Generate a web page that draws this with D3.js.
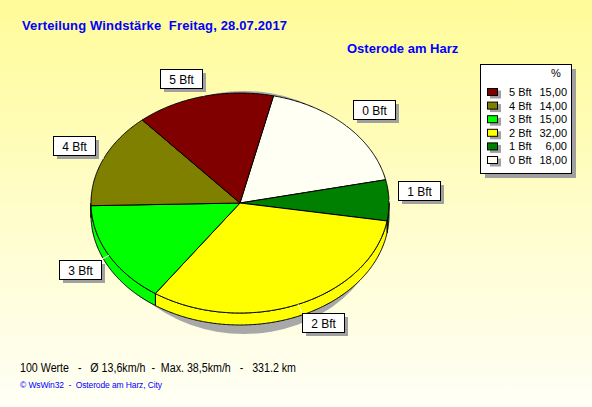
<!DOCTYPE html>
<html><head><meta charset="utf-8">
<script src="https://cdn.jsdelivr.net/npm/d3@7"></script>
<style>
html,body{margin:0;padding:0;overflow:hidden;background:#fff;}
svg{display:block;}
text{font-family:"Liberation Sans",Arial,sans-serif;}
</style>
</head><body>
<svg id="c" width="592" height="407"></svg>
<script>
// ---- data ----
const categories = ["0 Bft", "1 Bft", "2 Bft", "3 Bft", "4 Bft", "5 Bft"];
const percents   = [18, 6, 32, 15, 14, 15];
const colors     = ["#FFFFF4", "#008000", "#FFFF00", "#00FF00", "#808000", "#800000"];
const titleText  = "Verteilung Windstärke  Freitag, 28.07.2017";
const placeText  = "Osterode am Harz";
const legendHead = "%";
const footerText = "100 Werte   -   Ø 13,6km/h  -  Max. 38,5km/h   -   331.2 km";
const creditText = "© WsWin32  -  Osterode am Harz, City";

// ---- layout ----
const W = 592, H = 407;
const svg = d3.select("#c");
const defs = svg.append("defs");
const grad = defs.append("linearGradient").attr("id","bg").attr("x1",0).attr("y1",0).attr("x2",0).attr("y2",1);
grad.append("stop").attr("offset","0%").attr("stop-color","#FFFB99");
grad.append("stop").attr("offset","100%").attr("stop-color","#FFFFF6");
svg.append("rect").attr("width",W).attr("height",H).attr("fill","url(#bg)");

// titles
svg.append("text").attr("x",22).attr("y",30).attr("fill","#0000FF")
  .attr("font-size",13).attr("font-weight","bold").attr("textLength",265).attr("lengthAdjust","spacing")
  .style("white-space","pre").text(titleText);
svg.append("text").attr("x",347).attr("y",53).attr("fill","#0000FF")
  .attr("font-size",13).attr("font-weight","bold").text(placeText);

// pie geometry
const cx = 240, cy = 203, rx = 149, ry = 110, depth = 12;
const startDeg = 13;
const pie = d3.pie().sort(null).value(d => d)
  .startAngle(startDeg * Math.PI / 180)
  .endAngle((startDeg + 360) * Math.PI / 180);
const arcs = pie(percents);

function pt(a, dy = 0) { return [cx + rx * Math.sin(a), cy + dy - ry * Math.cos(a)]; }
function arcPts(a0, a1, dy = 0) {
  const n = Math.max(2, Math.ceil(Math.abs(a1 - a0) / (Math.PI / 360)));
  return d3.range(n + 1).map(i => pt(a0 + (a1 - a0) * i / n, dy));
}
const line = d3.line();

// shadow
svg.append("ellipse").attr("cx", cx + 4).attr("cy", cy + 9.5).attr("rx", rx - 9).attr("ry", ry + 11.5)
  .attr("fill", "#A8A8A8");

// walls (front half)
const gWall = svg.append("g");
arcs.forEach((d, i) => {
  const w0 = Math.max(d.startAngle, Math.PI / 2), w1 = Math.min(d.endAngle, 3 * Math.PI / 2);
  if (w1 > w0) {
    const pts = arcPts(w0, w1, 0).concat(arcPts(w1, w0, depth));
    gWall.append("path").attr("d", line(pts) + "Z")
      .attr("fill", colors[i]).attr("stroke", "#000").attr("stroke-width", 1).attr("stroke-linejoin","round");
  }
});

// top slices
const gTop = svg.append("g");
arcs.forEach((d, i) => {
  const pts = [[cx, cy]].concat(arcPts(d.startAngle, d.endAngle, 0));
  gTop.append("path").attr("d", line(pts) + "Z")
    .attr("fill", colors[i]).attr("stroke", "#000").attr("stroke-width", 1).attr("stroke-linejoin","round");
});

// labels
const bw = 42, bh = 19, gap = 9;
const gLab = svg.append("g");
arcs.forEach((d, i) => {
  const mid = (d.startAngle + d.endAngle) / 2;
  const p = pt(mid);
  const dir = [Math.sin(mid), -Math.cos(mid)];
  const c = [p[0] + gap * dir[0], p[1] + gap * dir[1]];
  const bx = dir[0] >= 0 ? c[0] : c[0] - bw;
  const by = dir[1] <= 0 ? c[1] - bh : c[1];
  gLab.append("line").attr("x1", p[0]).attr("y1", p[1]).attr("x2", c[0]).attr("y2", c[1])
    .attr("stroke", "#fff").attr("stroke-width", 1);
  gLab.append("rect").attr("x", Math.round(bx) + 4).attr("y", Math.round(by) + 4).attr("width", bw).attr("height", bh)
    .attr("fill", "#A0A0A0");
  gLab.append("rect").attr("x", Math.round(bx) + 0.5).attr("y", Math.round(by) + 0.5).attr("width", bw).attr("height", bh)
    .attr("fill", "#fff").attr("stroke", "#000");
  gLab.append("text").attr("x", Math.round(bx) + bw / 2 + 0.5).attr("y", Math.round(by) + 14.5)
    .attr("text-anchor", "middle").attr("font-size", 12).attr("fill", "#000").text(categories[i]);
});

// legend
const lg = svg.append("g");
const lx = 480, ly = 64, lw = 91, lh = 109;
lg.append("rect").attr("x", lx + 5).attr("y", ly + 5).attr("width", lw).attr("height", lh).attr("fill", "#A0A0A0");
lg.append("rect").attr("x", lx + 0.5).attr("y", ly + 0.5).attr("width", lw).attr("height", lh)
  .attr("fill", "#fff").attr("stroke", "#000");
lg.append("text").attr("x", 556).attr("y", 77).attr("text-anchor", "middle").attr("font-size", 11).text(legendHead);
const order = d3.range(categories.length).reverse();
const yRow = d3.scalePoint().domain(order).range([92, 160]);
const fmt = v => d3.format(".2f")(v).replace(".", ",");
order.forEach(i => {
  const y = yRow(i);
  lg.append("rect").attr("x", 490).attr("y", y - 1.5).attr("width", 11).attr("height", 8).attr("fill", "#A0A0A0");
  lg.append("rect").attr("x", 487.5).attr("y", y - 3.5).attr("width", 10).attr("height", 7)
    .attr("fill", colors[i]).attr("stroke", "#000");
  lg.append("text").attr("x", 509).attr("y", y + 4).attr("font-size", 11).text(categories[i]);
  lg.append("text").attr("x", 567).attr("y", y + 4).attr("text-anchor", "end").attr("font-size", 11).text(fmt(percents[i]));
});

// footer
svg.append("text").attr("x", 20).attr("y", 372).attr("font-size", 12).attr("fill", "#000")
  .attr("textLength", 276).attr("lengthAdjust", "spacingAndGlyphs")
  .style("white-space", "pre").text(footerText);
svg.append("text").attr("x", 20).attr("y", 388).attr("font-size", 8.5).attr("fill", "#0000FF")
  .attr("textLength", 142).attr("lengthAdjust", "spacing")
  .style("white-space", "pre").text(creditText);
</script>
</body></html>
